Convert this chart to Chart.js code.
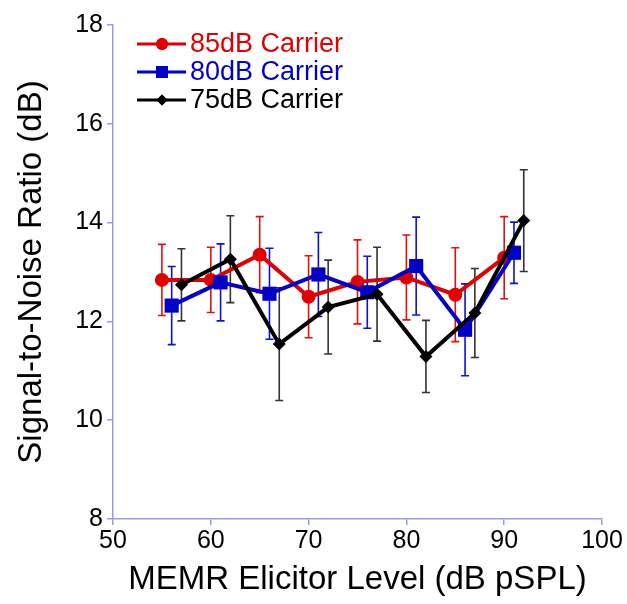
<!DOCTYPE html>
<html>
<head>
<meta charset="utf-8">
<script src="https://cdn.jsdelivr.net/npm/chart.js@4/dist/chart.umd.min.js"></script>
<style>
  html, body { margin: 0; padding: 0; background: #fff; }
  #wrap { width: 627px; height: 604px; }
</style>
</head>
<body>
<div id="wrap"><canvas id="snrChart" width="627" height="604"></canvas></div>
<script>
const labels = ["85dB Carrier", "80dB Carrier", "75dB Carrier"];

const x85 = [55, 60, 65, 70, 75, 80, 85, 90];
const snr85 = [12.84, 12.84, 13.35, 12.5, 12.8, 12.89, 12.54, 13.29];
const err85 = [0.72, 0.66, 0.77, 0.83, 0.85, 0.86, 0.95, 0.83];

const x80 = [56, 61, 66, 71, 76, 81, 86, 91];
const snr80 = [12.32, 12.79, 12.56, 12.95, 12.59, 13.12, 11.83, 13.39];
const err80 = [0.79, 0.78, 0.92, 0.85, 0.73, 0.99, 0.93, 0.62];

const x75 = [57, 62, 67, 72, 77, 82, 87, 92];
const snr75 = [12.74, 13.26, 11.54, 12.29, 12.55, 11.29, 12.17, 14.04];
const err75 = [0.73, 0.88, 1.14, 0.95, 0.95, 0.73, 0.9, 1.03];

const axisColor = "#9999f0";
const font = "'Liberation Sans', Arial, sans-serif";

function points(xs, ys) {
  return xs.map((x, i) => ({ x: x, y: ys[i] }));
}

const series = [
  { label: labels[0], data: points(x85, snr85), err: err85, color: "#e00000", barColor: "#e01010", pointStyle: "circle", radius: 7, order: 3 },
  { label: labels[1], data: points(x80, snr80), err: err80, color: "#0000c8", barColor: "#1010d0", pointStyle: "rect", radius: 10, order: 2 },
  { label: labels[2], data: points(x75, snr75), err: err75, color: "#000000", barColor: "#333333", pointStyle: "rectRot", radius: 6.5, order: 1 }
];

const errorBars = {
  id: "errorBars",
  beforeDatasetsDraw(chart) {
    const { ctx, scales: { x, y } } = chart;
    ctx.save();
    ctx.lineWidth = 1.6;
    chart.data.datasets.forEach((ds) => {
      ctx.strokeStyle = ds.barColor;
      ds.data.forEach((p, i) => {
        const px = x.getPixelForValue(p.x);
        const top = y.getPixelForValue(p.y + ds.err[i]);
        const bot = y.getPixelForValue(p.y - ds.err[i]);
        ctx.beginPath();
        ctx.moveTo(px, top); ctx.lineTo(px, bot);
        ctx.moveTo(px - 4, top); ctx.lineTo(px + 4, top);
        ctx.moveTo(px - 4, bot); ctx.lineTo(px + 4, bot);
        ctx.stroke();
      });
    });
    ctx.restore();
  }
};

const legendBox = {
  id: "legendBox",
  afterDraw(chart) {
    const { ctx } = chart;
    ctx.save();
    ctx.font = "27px " + font;
    ctx.textBaseline = "middle";
    chart.data.datasets.forEach((ds, i) => {
      const yy = 44 + i * 28;
      ctx.strokeStyle = ds.borderColor;
      ctx.lineWidth = 3;
      ctx.beginPath();
      ctx.moveTo(137, yy); ctx.lineTo(186, yy);
      ctx.stroke();
      ctx.fillStyle = ds.borderColor;
      Chart.helpers.drawPoint(ctx, { pointStyle: ds.pointStyle, radius: ds.pointRadius * 0.85, borderWidth: 0 }, 162, yy);
      ctx.fill();
      ctx.fillText(ds.label, 190, yy + 1);
    });
    ctx.restore();
  }
};

new Chart(document.getElementById("snrChart"), {
  type: "line",
  data: {
    datasets: series.map((s) => ({
      label: s.label,
      data: s.data,
      err: s.err,
      barColor: s.barColor,
      borderColor: s.color,
      backgroundColor: s.color,
      borderWidth: 4,
      pointStyle: s.pointStyle,
      pointRadius: s.radius,
      pointBorderWidth: 0,
      tension: 0,
      order: s.order
    }))
  },
  options: {
    responsive: false,
    animation: false,
    layout: { padding: { top: 25, right: 25, left: 0, bottom: 0 } },
    plugins: { legend: { display: false }, tooltip: { enabled: false } },
    scales: {
      x: {
        type: "linear",
        min: 50,
        max: 100,
        afterFit: (scale) => { scale.height = 85; },
        ticks: { stepSize: 10, color: "#000", font: { family: font, size: 25 }, padding: 1 },
        grid: { display: true, drawOnChartArea: false, drawTicks: true, tickLength: 6, color: axisColor, lineWidth: 1.5 },
        border: { color: axisColor, width: 1.5 },
        title: { display: true, text: "MEMR Elicitor Level (dB pSPL)", color: "#000", font: { family: font, size: 33 }, padding: { top: 0, bottom: 4 } }
      },
      y: {
        min: 8,
        max: 18,
        afterFit: (scale) => { scale.width = 113; },
        ticks: { stepSize: 2, color: "#000", font: { family: font, size: 25 }, padding: 4 },
        grid: { display: true, drawOnChartArea: false, drawTicks: true, tickLength: 6, color: axisColor, lineWidth: 1.5 },
        border: { color: axisColor, width: 1.5 },
        title: { display: true, text: "Signal-to-Noise Ratio (dB)", color: "#000", font: { family: font, size: 33 }, padding: { top: 12, bottom: 0 } }
      }
    }
  },
  plugins: [errorBars, legendBox]
});
</script>
</body>
</html>
